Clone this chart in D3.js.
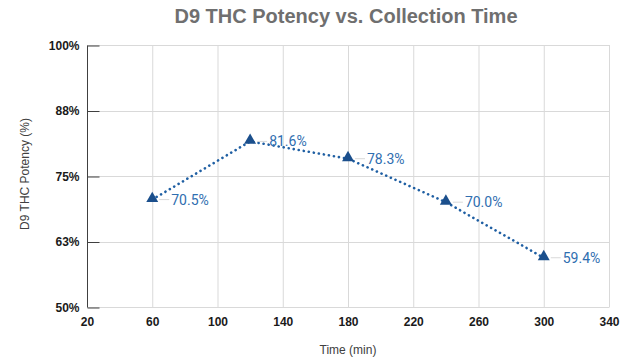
<!DOCTYPE html>
<html><head><meta charset="utf-8">
<script src="https://cdn.jsdelivr.net/npm/d3@7"></script>
<style>body{margin:0;background:#fff}svg{display:block}</style>
</head><body>
<svg id="c" width="624" height="359"></svg>
<script>
const times = [60, 120, 180, 240, 300];
const potency = [0.705, 0.816, 0.783, 0.700, 0.594];
const pointLabels = ["70.5%", "81.6%", "78.3%", "70.0%", "59.4%"];
const xTicks = [20, 60, 100, 140, 180, 220, 260, 300, 340];
const yTicks = [0.5, 0.625, 0.75, 0.875, 1.0];
const yTickLabels = ["50%", "63%", "75%", "88%", "100%"];
const titleText = "D9 THC Potency vs. Collection Time";
const xTitle = "Time (min)";
const yTitle = "D9 THC Potency (%)";

const svg = d3.select("#c");
const L = 87, R = 609, T = 45, B = 307;
const x = d3.scaleLinear().domain([20, 340]).range([L, R]);
const y = d3.scaleLinear().domain([0.5, 1.0]).range([B, T]);

// gridlines
svg.append("g").selectAll("line").data(xTicks).join("line")
  .attr("x1", d => x(d) + 0.5).attr("x2", d => x(d) + 0.5)
  .attr("y1", T).attr("y2", B)
  .attr("stroke", "#d9d9d9").attr("stroke-width", 1);
svg.append("g").selectAll("line").data(yTicks).join("line")
  .attr("x1", L).attr("x2", R + 0.5)
  .attr("y1", d => Math.round(y(d)) + 0.5).attr("y2", d => Math.round(y(d)) + 0.5)
  .attr("stroke", "#d9d9d9").attr("stroke-width", 1);

// y axis
const yAxis = d3.axisLeft(y).tickValues(yTicks).tickSize(-12).tickPadding(20)
  .tickFormat((d, i) => yTickLabels[i]);
const gy = svg.append("g").attr("transform", `translate(${L + 0.5},0.5)`).call(yAxis);
gy.select(".domain").attr("stroke", "#404040").attr("d", `M0,${T}V${B}`);
gy.selectAll(".tick line").attr("stroke", "#404040");
gy.selectAll(".tick text").attr("font-family", "Liberation Sans, Arial, sans-serif")
  .attr("font-size", 12).attr("font-weight", "bold").attr("fill", "#1a1a1a").attr("dx", 0).attr("x", -8);

// x axis
const xAxis = d3.axisBottom(x).tickValues(xTicks).tickSize(0).tickPadding(10);
const gx = svg.append("g").attr("transform", `translate(0,${B})`).call(xAxis);
gx.select(".domain").remove();
gx.selectAll(".tick text").attr("font-family", "Liberation Sans, Arial, sans-serif")
  .attr("font-size", 12).attr("font-weight", "bold").attr("fill", "#1a1a1a");

// titles
svg.append("text").attr("x", 346).attr("y", 23).attr("text-anchor", "middle")
  .attr("font-family", "Liberation Sans, Arial, sans-serif").attr("font-size", 20)
  .attr("font-weight", "bold").attr("fill", "#6f6f6f").text(titleText);
svg.append("text").attr("x", 348).attr("y", 354).attr("text-anchor", "middle")
  .attr("font-family", "Liberation Sans, Arial, sans-serif").attr("font-size", 12)
  .attr("fill", "#404040").text(xTitle);
svg.append("text").attr("transform", `translate(29,174) rotate(-90)`).attr("text-anchor", "middle")
  .attr("font-family", "Liberation Sans, Arial, sans-serif").attr("font-size", 12)
  .attr("fill", "#404040").text(yTitle);

const data = times.map((t, i) => ({t, v: potency[i], lab: pointLabels[i]}));

// line
const line = d3.line().x(d => x(d.t)).y(d => y(d.v));
svg.append("path").datum(data).attr("d", line).attr("fill", "none")
  .attr("stroke", "#1f5fa3").attr("stroke-width", 2.6)
  .attr("stroke-dasharray", "0.1 5").attr("stroke-linecap", "round");

// leader lines
svg.append("g").selectAll("line").data(data).join("line")
  .attr("x1", d => x(d.t) + 7).attr("x2", d => x(d.t) + 17)
  .attr("y1", d => y(d.v)).attr("y2", d => y(d.v))
  .attr("stroke", "#d9d9d9").attr("stroke-width", 1);

// markers
const tri = d3.symbol().type(d3.symbolTriangle).size(62);
svg.append("g").selectAll("path").data(data).join("path")
  .attr("d", tri).attr("transform", d => `translate(${x(d.t)},${y(d.v) - 1})`)
  .attr("fill", "#1b4f8c");

// labels
svg.append("g").selectAll("text").data(data).join("text")
  .attr("x", d => x(d.t) + 19).attr("y", d => y(d.v) + 5)
  .attr("font-family", "Roboto, sans-serif").attr("font-size", 14)
  .attr("fill", "#2f6eb0").text(d => d.lab);
</script>
</body></html>
